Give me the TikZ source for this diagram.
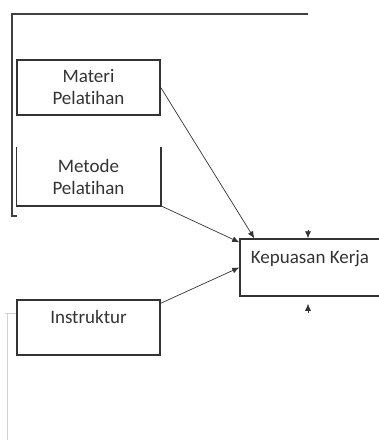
\documentclass[tikz,border=0pt]{standalone}
\usepackage{fontspec}
\setmainfont[Ligatures=NoCommon]{Carlito}
\usetikzlibrary{arrows.meta}
\begin{document}
\begin{tikzpicture}[x=1pt,y=-1pt,
    box/.style={draw=black!80,line width=1.5pt,minimum width=143pt,minimum height=55pt,
      inner sep=0pt,align=center,font=\fontsize{19}{22}\selectfont,text=black!80},
    link/.style={black!80,line width=0.7pt,-{Latex[length=7pt,width=6pt]}},
    frame/.style={black!75,line width=1.6pt}]
		\useasboundingbox (0,0) rectangle (379,440);
		\clip (0,0) rectangle (379,440);
			\draw[frame] (308,14)--(12,14)--(12,216)--(17,216);
			\draw[gray!35,line width=0.8pt] (5,313)--(17,313) (7,313)--(7,440);
			\node[box] (materi) at (88.5,87.5) {Materi\\Pelatihan};
			\node[box,draw=none,minimum height=57pt] (metode) at (88.5,176.5) {Metode\\Pelatihan};
			\draw[black!80,line width=1.5pt] (metode.north west)--(metode.south west)--(metode.south east)--(metode.north east);
			\node[box] (instruktur) at (88.5,327.5) {Instruktur\\\mbox{}};
			\node[box,minimum width=140pt,minimum height=57pt] (kepuasan) at (310,267.5) {Kepuasan Kerja\\\mbox{}};
			\draw[link] (materi.east)--([xshift=15pt]kepuasan.north west);
			\draw[link] (metode.south east)--([yshift=-4pt]kepuasan.north west);
			\draw[link] ([yshift=-4pt]instruktur.north east)--(kepuasan.west);
			\draw[link] ([xshift=-2pt,yshift=8pt]kepuasan.north)--([xshift=-2pt]kepuasan.north);
			\draw[link] ([xshift=-2pt,yshift=-16pt]kepuasan.south)--([xshift=-2pt,yshift=-7pt]kepuasan.south);
	\end{tikzpicture}
\end{document}
